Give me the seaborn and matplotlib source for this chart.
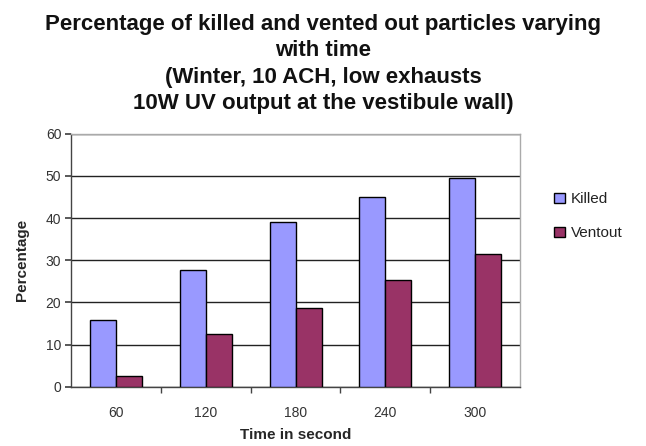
import matplotlib
matplotlib.use("Agg")
import matplotlib.pyplot as plt
import seaborn as sns
import pandas as pd

times = ["60", "120", "180", "240", "300"]
killed = [15.8, 27.7, 39.0, 44.9, 49.6]
ventout = [2.5, 12.4, 18.7, 25.3, 31.4]
series_names = ["Killed", "Ventout"]
colors = ["#9999FF", "#993366"]

df = pd.DataFrame({
    "time": times * 2,
    "value": killed + ventout,
    "series": [series_names[0]] * len(times) + [series_names[1]] * len(times),
})

sns.set_theme(style="white")
plt.rcParams["font.family"] = ["Liberation Sans", "DejaVu Sans"]

fig = plt.figure(figsize=(6.46, 4.46), dpi=100)
ax = fig.add_axes([0.110, 0.133, 0.695, 0.567])

sns.barplot(data=df, x="time", y="value", hue="series", order=times,
            hue_order=series_names, palette=colors, width=0.58,
            edgecolor="black", linewidth=1.0, saturation=1, ax=ax,
            zorder=3)

ax.set_ylim(0, 60)
ax.set_yticks(range(0, 61, 10))
ax.set_xlim(-0.5, len(times) - 0.5)
ax.yaxis.grid(True, color="#222222", linewidth=1.0, zorder=0)
ax.set_axisbelow(True)

for side in ["top", "right"]:
    ax.spines[side].set_color("#aaaaaa")
    ax.spines[side].set_linewidth(1.0)
for side in ["left", "bottom"]:
    ax.spines[side].set_color("#444444")
    ax.spines[side].set_linewidth(1.0)

# category-boundary ticks on the x axis
ax.set_xticks([i - 0.5 for i in range(1, len(times))], minor=True)
ax.tick_params(axis="x", which="minor", length=4, direction="out",
               color="#444444", bottom=True)
ax.tick_params(axis="x", which="major", length=0, pad=14,
               labelsize=10, labelcolor="#333333")
ax.tick_params(axis="y", which="major", length=4, direction="out",
               color="#444444", left=True, labelsize=10,
               labelcolor="#333333", pad=3)

ax.set_xlabel("Time in second", fontsize=11, fontweight="bold", labelpad=6)
ax.set_ylabel("Percentage", fontsize=11, fontweight="bold", labelpad=12)

handles, labels = ax.get_legend_handles_labels()
ax.legend(handles, labels, loc="center left",
          bbox_to_anchor=(0.836, 0.515), bbox_transform=fig.transFigure,
          frameon=False, fontsize=11, handlelength=0.7, handleheight=0.7,
          handletextpad=0.4, labelspacing=1.3, labelcolor="#222222")

fig.text(0.50, 0.969,
         "Percentage of killed and vented out particles varying\nwith time\n"
         "(Winter, 10 ACH, low exhausts\n10W UV output at the vestibule wall)",
         ha="center", va="top", fontsize=16, fontweight="bold",
         linespacing=1.34, color="#111111")

fig.savefig("out.png", dpi=100)
